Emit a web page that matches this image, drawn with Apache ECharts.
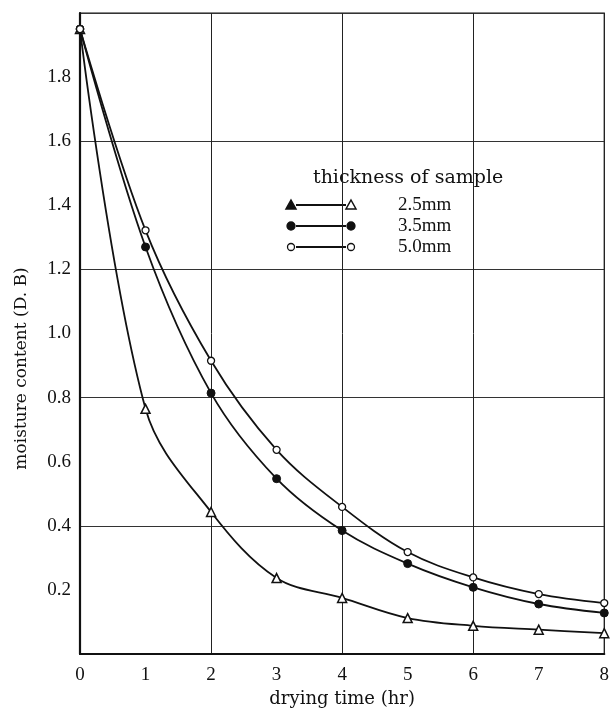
<!DOCTYPE html>
<html>
<head>
<meta charset="utf-8">
<script src="https://cdn.jsdelivr.net/npm/echarts@6/dist/echarts.min.js"></script>
<style>
  html, body { margin: 0; padding: 0; background: #fff; }
  #chart { width: 612px; height: 713px; }
</style>
</head>
<body>
<div id="chart"></div>
<script>
// drying time (hr)
var hours = [0, 1, 2, 3, 4, 5, 6, 7, 8];
// moisture content (D.B) for each sample thickness
var thick25 = [1.95, 0.765, 0.443, 0.237, 0.175, 0.112, 0.088, 0.076, 0.065];
var thick35 = [1.95, 1.27, 0.814, 0.547, 0.385, 0.282, 0.208, 0.156, 0.128];
var thick50 = [1.95, 1.322, 0.915, 0.637, 0.459, 0.318, 0.239, 0.187, 0.159];
var legendNames = ['2.5mm', '3.5mm', '5.0mm'];

var serif = 'Liberation Serif';
var ink = '#111';

function pairs(ys) {
  return hours.map(function (h, i) { return [h, ys[i]]; });
}

var chart = echarts.init(document.getElementById('chart'));

// legend drawn by hand so the markers sit at both ends of the line
var legendRows = [];
var rowY = [205, 226, 247];
function marker(kind, cx, cy, filled) {
  if (kind === 'tri') {
    return {
      type: 'polygon',
      shape: { points: [[cx, cy - 5], [cx + 5, cy + 4], [cx - 5, cy + 4]] },
      style: { fill: filled ? ink : '#fff', stroke: ink, lineWidth: 1.5 }
    };
  }
  return {
    type: 'circle',
    shape: { cx: cx, cy: cy, r: kind === 'dot' ? 4 : 3.5 },
    style: { fill: kind === 'dot' ? ink : '#fff', stroke: ink, lineWidth: 1.3 }
  };
}
var kinds = ['tri', 'dot', 'ring'];
kinds.forEach(function (k, i) {
  var y = rowY[i];
  legendRows.push({
    type: 'line',
    shape: { x1: 296, y1: y, x2: 346, y2: y },
    style: { stroke: ink, lineWidth: 1.8 }
  });
  legendRows.push(marker(k, 291, y, true));
  legendRows.push(marker(k, 351, y, false));
  legendRows.push({
    type: 'text',
    style: {
      x: 398, y: y, text: legendNames[i], fill: ink,
      font: '19px "' + serif + '"', verticalAlign: 'middle'
    }
  });
});
legendRows.push({
  type: 'text',
  style: {
    x: 313, y: 178, text: 'thickness of sample', fill: ink,
    font: '19px "DejaVu Serif"', verticalAlign: 'middle'
  }
});

var lineStyle = { color: ink, width: 1.8 };

var option = {
  backgroundColor: '#fff',
  animation: false,
  grid: {
    left: 80, right: 7, top: 13, bottom: 57,
    show: true, borderColor: ink, borderWidth: 1.2
  },
  xAxis: [{
    type: 'value', min: 0, max: 8, interval: 1,
    name: 'drying time (hr)', nameLocation: 'middle', nameGap: 36,
    nameTextStyle: { fontFamily: 'DejaVu Serif', fontSize: 18, color: ink },
    axisLine: { show: true, lineStyle: { color: ink, width: 2.2 } },
    axisTick: { show: false },
    axisLabel: { fontFamily: serif, fontSize: 19, color: ink, margin: 12 },
    splitLine: { show: false }
  }, {
    type: 'value', min: 0, max: 8, interval: 2, position: 'bottom',
    axisLine: { show: false }, axisTick: { show: false }, axisLabel: { show: false },
    splitLine: { show: true, lineStyle: { color: '#222', width: 1 } }
  }],
  yAxis: [{
    type: 'value', min: 0, max: 2, interval: 0.2,
    name: 'moisture content (D. B)', nameLocation: 'middle', nameGap: 50,
    nameTextStyle: {
      fontFamily: 'DejaVu Serif', fontSize: 17, color: ink,
      padding: [0, 70, 0, 0]
    },
    axisLine: { show: true, lineStyle: { color: ink, width: 2.2 } },
    axisTick: { show: false },
    axisLabel: {
      fontFamily: serif, fontSize: 19, color: ink, margin: 9,
      formatter: function (v) {
        if (v <= 0 || v >= 2) return '';
        return v.toFixed(1);
      }
    },
    splitLine: { show: false }
  }, {
    type: 'value', min: 0, max: 2, interval: 0.4, position: 'left',
    axisLine: { show: false }, axisTick: { show: false }, axisLabel: { show: false },
    splitLine: { show: true, lineStyle: { color: '#333', width: 1 } }
  }],
  graphic: legendRows,
  series: [{
    name: legendNames[0], type: 'line', smooth: 0.35,
    data: pairs(thick25),
    symbol: 'triangle', symbolSize: 9,
    itemStyle: { color: '#fff', borderColor: ink, borderWidth: 1.5 },
    lineStyle: lineStyle, z: 3
  }, {
    name: legendNames[1], type: 'line', smooth: 0.35,
    data: pairs(thick35),
    symbol: 'circle', symbolSize: 8,
    itemStyle: { color: ink, borderColor: ink, borderWidth: 1 },
    lineStyle: lineStyle, z: 3
  }, {
    name: legendNames[2], type: 'line', smooth: 0.35,
    data: pairs(thick50),
    symbol: 'circle', symbolSize: 7,
    itemStyle: { color: '#fff', borderColor: ink, borderWidth: 1.3 },
    lineStyle: lineStyle, z: 3
  }]
};

chart.setOption(option);
</script>
</body>
</html>
